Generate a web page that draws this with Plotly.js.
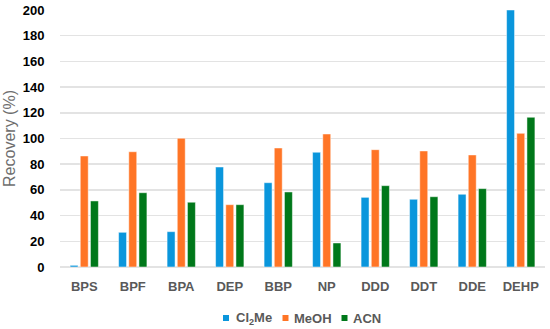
<!DOCTYPE html>
<html>
<head>
<meta charset="utf-8">
<script src="https://cdn.plot.ly/plotly-3.0.1.min.js"></script>
<style>html,body{margin:0;padding:0;background:#fff;}#chart{width:550px;height:329px;}</style>
</head>
<body>
<div id="chart"></div>
<script>
const categories = ["BPS","BPF","BPA","DEP","BBP","NP","DDD","DDT","DDE","DEHP"];
const seriesNames = ["Cl<sub>2</sub>Me","MeOH","ACN"];
const cl2me = [1.3, 27, 27.5, 77.8, 65.6, 89.3, 54.2, 52.7, 56.6, 200];
const meoh  = [86.4, 89.7, 100.2, 48.5, 92.6, 103.5, 91.3, 90.3, 87.2, 104];
const acn   = [51.4, 57.8, 50.4, 48.5, 58.4, 18.7, 63.3, 54.7, 61, 116.5];
const yTicks = [0,20,40,60,80,100,120,140,160,180,200];

const colors = ["#0A96DC","#FF7526","#00781A"];
const values = [cl2me, meoh, acn];
const traces = values.map((v,i)=>({
  type:'bar', x:categories, y:v, name:seriesNames[i],
  marker:{color:colors[i], line:{color:'rgba(255,255,255,0.6)', width:0.8}},
  hoverinfo:'skip', showlegend:false
}));

// Legend drawn as shapes + text (pixel layout converted to paper coords)
const W = 550, H = 329, ML = 60, MR = 5, MT = 10, MB = 62;
const pw = W - ML - MR, ph = H - MT - MB;
const px = x => (x - ML) / pw;
const py = y => (H - MB - y) / ph;
const legendSquareX = [223, 282.5, 341.5];
const legendTextX = [234, 292, 351];
const legendY = 318;
const shapes = [], annotations = [];
seriesNames.forEach((name, i) => {
  shapes.push({type:'rect', xref:'paper', yref:'paper',
    x0:px(legendSquareX[i]), x1:px(legendSquareX[i]+6),
    y0:py(legendY+3), y1:py(legendY-3),
    fillcolor:colors[i], line:{width:0}});
  annotations.push({xref:'paper', yref:'paper', x:px(legendTextX[i]), y:py(legendY),
    xanchor:'left', yanchor:'middle', showarrow:false, text:name,
    font:{size:13, color:'#595959', family:'Liberation Sans, Arial, sans-serif', weight:'bold'}});
});

const layout = {
  width:W, height:H,
  margin:{l:ML, r:MR, t:MT, b:MB},
  paper_bgcolor:'#fff', plot_bgcolor:'#fff',
  barmode:'group', bargap:0.37, bargroupgap:0.22,
  font:{family:'Liberation Sans, Arial, sans-serif'},
  xaxis:{
    showgrid:false, showline:false, zeroline:false,
    tickfont:{size:13, color:'#595959', family:'Liberation Sans, Arial, sans-serif', weight:'bold'},
    ticks:'outside', ticklen:7, tickcolor:'rgba(0,0,0,0)'
  },
  yaxis:{
    range:[0,200], tickvals:yTicks, ticktext:yTicks.map(String),
    showgrid:true, gridcolor:'#e3e3e3', gridwidth:1.5,
    zeroline:true, zerolinecolor:'#e3e3e3', zerolinewidth:1.5,
    showline:false,
    ticks:'outside', ticklen:12, tickcolor:'rgba(0,0,0,0)',
    tickfont:{size:13, color:'#000', family:'Liberation Sans, Arial, sans-serif', weight:'bold'},
    title:{text:'Recovery (%)', font:{size:16, color:'#6e6e6e', family:'Liberation Sans, Arial, sans-serif'}, standoff:3}
  },
  showlegend:false,
  shapes:shapes, annotations:annotations
};
Plotly.newPlot('chart', traces, layout, {displayModeBar:false, staticPlot:true});
</script>
</body>
</html>
